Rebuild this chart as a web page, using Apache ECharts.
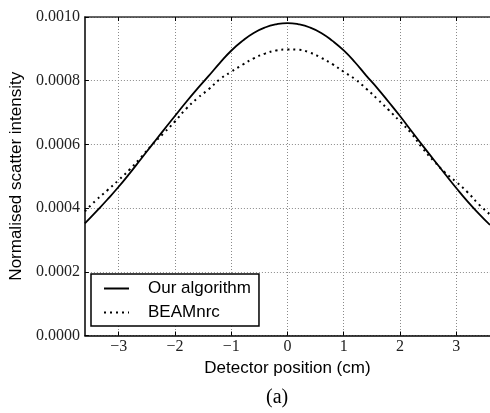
<!DOCTYPE html>
<html>
<head>
<meta charset="utf-8">
<script src="https://cdn.jsdelivr.net/npm/echarts@6/dist/echarts.min.js"></script>
<style>
html,body{margin:0;padding:0;background:#fff;}
#chart{width:490px;height:413px;}
</style>
</head>
<body>
<div id="chart"></div>
<script>
var positions = [-3.6,-3.4,-3.2,-3.0,-2.8,-2.6,-2.4,-2.2,-2.0,-1.8,-1.6,-1.4,-1.2,-1.0,-0.8,-0.6,-0.4,-0.2,0.0,0.2,0.4,0.6,0.8,1.0,1.2,1.4,1.6,1.8,2.0,2.2,2.4,2.6,2.8,3.0,3.2,3.4,3.6];
var ourAlgorithm = [0.000352,0.000389,0.000427,0.000467,0.000510,0.000555,0.000600,0.000645,0.000689,0.000733,0.000775,0.000815,0.000856,0.000894,0.000925,0.000950,0.000967,0.000977,0.000981,0.000977,0.000967,0.000950,0.000925,0.000895,0.000858,0.000816,0.000776,0.000733,0.000689,0.000643,0.000597,0.000552,0.000507,0.000463,0.000421,0.000383,0.000347];
var beamnrc = [0.000390,0.000425,0.000456,0.000488,0.000522,0.000560,0.000600,0.000635,0.000672,0.000712,0.000745,0.000773,0.000805,0.000828,0.000850,0.000870,0.000885,0.000895,0.000898,0.000897,0.000888,0.000872,0.000852,0.000828,0.000805,0.000775,0.000742,0.000708,0.000672,0.000635,0.000588,0.000548,0.000512,0.000482,0.000450,0.000412,0.000380];
var xTicks = [-3,-2,-1,0,1,2,3];
var yTicks = [0.0000,0.0002,0.0004,0.0006,0.0008,0.0010];
var seriesNames = ['Our algorithm','BEAMnrc'];

function pairs(vals){ return positions.map(function(x,i){ return [x, vals[i]]; }); }

var chart = echarts.init(document.getElementById('chart'), null, {renderer:'canvas'});
var tickFont = 'Liberation Serif';
var sans = 'Liberation Sans';
chart.setOption({
  animation:false,
  backgroundColor:'#fff',
  grid:{left:82, top:17, width:414, height:318.5, containLabel:false},
  xAxis:[{
    type:'value', min:-3.6, max:3.6, interval:1,
    name:'Detector position (cm)', nameLocation:'middle', nameGap:14,
    nameTextStyle:{fontFamily:sans, fontSize:17, color:'#000', verticalAlign:'top'},
    axisLine:{show:true, onZero:false, lineStyle:{color:'#000', width:1.5}},
    axisTick:{show:true, inside:true, length:4, lineStyle:{color:'#000'},
      customValues: xTicks},
    axisLabel:{show:true, margin:3, fontFamily:tickFont, fontSize:16, color:'#222',
      customValues: xTicks,
      formatter:function(v){ return (v<0?'\u2212':'') + Math.abs(v); }},
    splitLine:{show:true, lineStyle:{color:'#8a8a8a', width:1, type:[1,2]}}
  },{
    type:'value', min:-3.6, max:3.6, interval:1, position:'top',
    axisLine:{show:true, onZero:false, lineStyle:{color:'#333', width:1.5}},
    axisTick:{show:true, inside:true, length:4, lineStyle:{color:'#000'}, customValues: xTicks},
    axisLabel:{show:false}, splitLine:{show:false}
  }],
  yAxis:[{
    type:'value', min:0, max:0.001, interval:0.0002,
    name:'Normalised scatter intensity', nameLocation:'middle', nameGap:53,
    nameTextStyle:{fontFamily:sans, fontSize:17, color:'#000'},
    axisLine:{show:true, onZero:false, lineStyle:{color:'#000', width:1.5}},
    axisTick:{show:true, inside:true, length:4, lineStyle:{color:'#000'}},
    axisLabel:{show:true, margin:5, fontFamily:tickFont, fontSize:16, color:'#222',
      formatter:function(v){ return v.toFixed(4); }},
    splitLine:{show:true, lineStyle:{color:'#8a8a8a', width:1, type:[1,2]}}
  }],
  legend:{
    left:91, top:274, orient:'vertical',
    data:[{name:seriesNames[0]},{name:seriesNames[1]}],
    itemWidth:25, itemHeight:12, itemGap:7,
    padding:[6,8,5,12],
    borderColor:'#000', borderWidth:1.5, borderRadius:0,
    backgroundColor:'#fff',
    itemStyle:{opacity:0},
    textStyle:{fontFamily:sans, fontSize:17, color:'#000', padding:[0,0,0,14]}
  },
  series:[{
    name:seriesNames[0], type:'line', data:pairs(ourAlgorithm), smooth:true,
    showSymbol:false, symbol:'none',
    lineStyle:{color:'#000', width:1.8, type:'solid'}, itemStyle:{color:'#000'}
  },{
    name:seriesNames[1], type:'line', data:pairs(beamnrc), smooth:true,
    showSymbol:false, symbol:'none',
    lineStyle:{color:'#000', width:2, type:[2,4]}, itemStyle:{color:'#000'}
  }],
  graphic:[{
    type:'text', left:266, top:388,
    style:{text:'(a)', font:'20px "Liberation Serif"', fill:'#000'}
  }]
});
</script>
</body>
</html>
